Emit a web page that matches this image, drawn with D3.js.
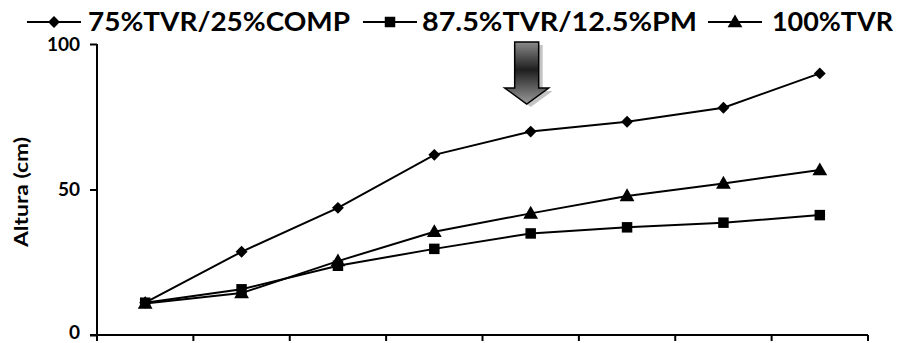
<!DOCTYPE html>
<html>
<head>
<meta charset="utf-8">
<script src="https://cdn.jsdelivr.net/npm/d3@7"></script>
<style>
  html, body { margin: 0; padding: 0; background: #fff; }
  svg { display: block; }
  text { font-family: Lato, "Open Sans", sans-serif; font-weight: bold; fill: #000; }
</style>
</head>
<body>
<svg id="chart" width="899" height="343"></svg>
<script>
// Sampling periods (x categories, unlabeled on the axis)
const categories = ["1", "2", "3", "4", "5", "6", "7", "8"];

// Plant height (cm) per treatment
const seriesNames = ["75%TVR/25%COMP", "87.5%TVR/12.5%PM", "100%TVR"];
const comp25 = [11.1, 28.6, 43.7, 61.9, 69.9, 73.3, 78.1, 89.9];
const pm125  = [11.1, 15.7, 23.8, 29.6, 34.9, 37.0, 38.6, 41.2];
const tvr100 = [10.8, 14.4, 25.4, 35.5, 41.8, 47.8, 52.1, 56.7];

const yTicks = [0, 50, 100];
const yLabel = "Altura (cm)";
// Category where the treatment change is marked by the arrow
const arrowCategory = "5";

const svg = d3.select("#chart");

const x = d3.scaleBand().domain(categories).range([97, 868]);
const y = d3.scaleLinear().domain([0, 100]).range([335, 44]);
const cx = d => x(d) + x.bandwidth() / 2;

// Axes
const yAxis = d3.axisLeft(y).tickValues(yTicks).tickSize(7).tickPadding(10);
const gy = svg.append("g").attr("transform", "translate(97,0)").call(yAxis)
  .attr("font-size", 19).attr("font-family", "Lato, sans-serif");
gy.select(".domain").attr("d", "M0,44V340").attr("stroke", "#000").attr("stroke-width", 2);
gy.selectAll(".tick line").attr("stroke", "#000").attr("stroke-width", 2);
gy.selectAll(".tick text").attr("font-size", 19).style("font-size", "19px")
  .attr("dy", d => d === 0 ? "0.18em" : "0.34em");

const xAxis = d3.axisBottom(x).tickSize(6).tickFormat("");
const gx = svg.append("g").attr("transform", "translate(0,335)").call(xAxis);
gx.select(".domain").attr("d", "M90,0H868").attr("stroke", "#000").attr("stroke-width", 2);
gx.selectAll(".tick").remove();
// Ticks sit on the category boundaries
const bounds = categories.map(c => x(c)).concat([x.range()[1]]);
gx.selectAll("line.b").data(bounds).join("line").attr("class", "b")
  .attr("x1", d => d).attr("x2", d => d).attr("y1", 0).attr("y2", 6)
  .attr("stroke", "#000").attr("stroke-width", 2);

svg.append("text")
  .attr("transform", "translate(28,192) rotate(-90)")
  .attr("text-anchor", "middle")
  .style("font-size", "18px")
  .attr("textLength", 110).attr("lengthAdjust", "spacingAndGlyphs")
  .text(yLabel);

// Marker shapes
const sym = {
  diamond: d3.symbol().type(d3.symbolDiamond2).size(90),
  square: d3.symbol().type(d3.symbolSquare).size(110),
  triangle: d3.symbol().type(d3.symbolTriangle).size(95)
};

const series = [
  { name: seriesNames[0], values: comp25, shape: "diamond" },
  { name: seriesNames[1], values: pm125, shape: "square" },
  { name: seriesNames[2], values: tvr100, shape: "triangle" }
];

const line = d3.line().x((d, i) => cx(categories[i])).y(d => y(d));

series.forEach(s => {
  svg.append("path").attr("d", line(s.values))
    .attr("fill", "none").attr("stroke", "#000").attr("stroke-width", 2);
  svg.selectAll(null).data(s.values).join("path")
    .attr("d", sym[s.shape]())
    .attr("transform", (d, i) => `translate(${cx(categories[i])},${y(d) + (s.shape === "triangle" ? 1 : 0)})`)
    .attr("fill", "#000");
});

// Legend
const legendItems = [
  { lx: 27, textX: 88, textW: 262 },
  { lx: 363, textX: 422, textW: 275 },
  { lx: 708, textX: 772, textW: 121 }
];
const legendY = 22;
series.forEach((s, i) => {
  const L = legendItems[i];
  svg.append("line").attr("x1", L.lx).attr("x2", L.lx + 54)
    .attr("y1", legendY).attr("y2", legendY)
    .attr("stroke", "#000").attr("stroke-width", 2);
  svg.append("path").attr("d", sym[s.shape]())
    .attr("transform", `translate(${L.lx + 27},${legendY + (s.shape === "triangle" ? 1 : 0)})`)
    .attr("fill", "#000");
  svg.append("text").attr("x", L.textX).attr("y", legendY + 9)
    .style("font-size", "26px")
    .attr("textLength", L.textW).attr("lengthAdjust", "spacingAndGlyphs")
    .text(s.name);
});

// Arrow marking the treatment change
const defs = svg.append("defs");
const grad = defs.append("linearGradient").attr("id", "arrowGrad")
  .attr("x1", 0).attr("y1", 0).attr("x2", 0).attr("y2", 1);
grad.append("stop").attr("offset", "0%").attr("stop-color", "#8a8a8a");
grad.append("stop").attr("offset", "45%").attr("stop-color", "#1e1e1e");
grad.append("stop").attr("offset", "100%").attr("stop-color", "#9a9a9a");

const ax = cx(arrowCategory) - 4;
const arrowPts = [
  [ax - 12, 42], [ax + 12, 42], [ax + 12, 88], [ax + 22, 88],
  [ax, 104], [ax - 22, 88], [ax - 12, 88]
];
svg.append("polygon")
  .attr("points", arrowPts.map(p => [p[0] + 4, p[1] + 3].join(",")).join(" "))
  .attr("fill", "#c4c4c4");
svg.append("polygon")
  .attr("points", arrowPts.map(p => p.join(",")).join(" "))
  .attr("fill", "url(#arrowGrad)").attr("stroke", "#000").attr("stroke-width", 1.5)
  .attr("stroke-linejoin", "miter");
</script>
</body>
</html>
